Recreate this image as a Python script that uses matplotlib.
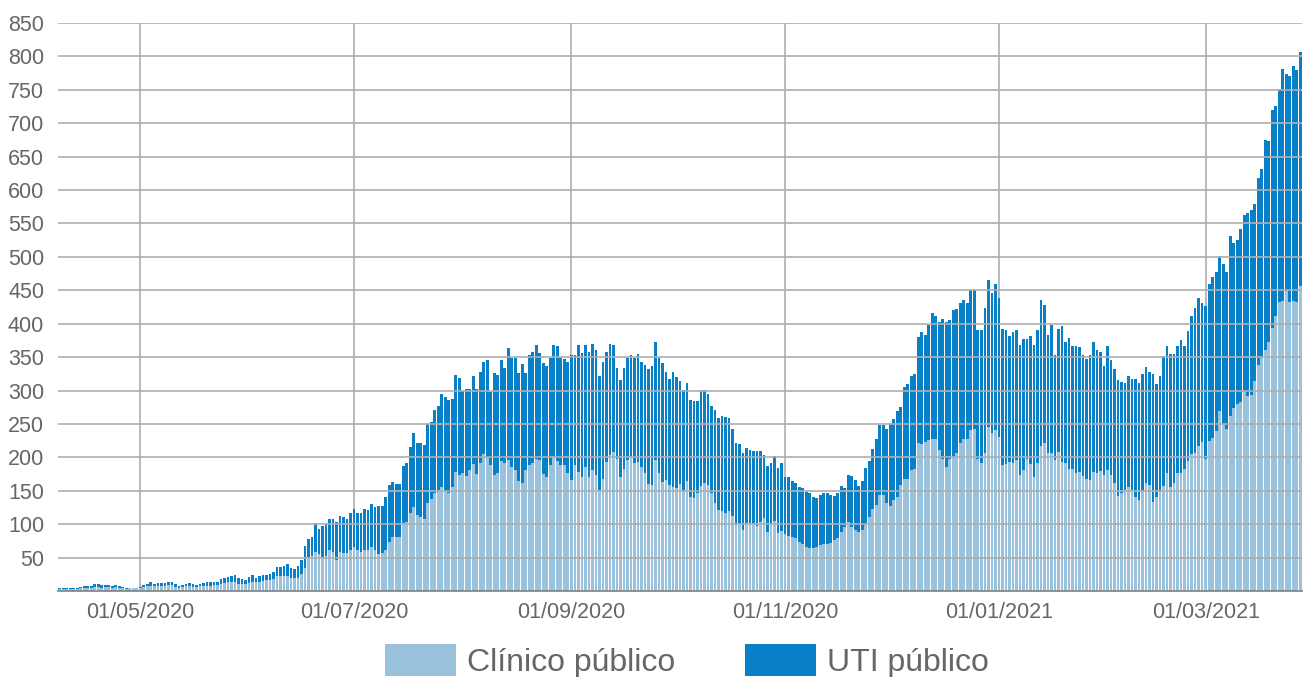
import matplotlib
matplotlib.use("Agg")
import matplotlib.pyplot as plt
import matplotlib.dates as mdates
from matplotlib.patches import Patch
import pandas as pd
import numpy as np

plt.rcParams['font.family'] = ['Liberation Sans', 'DejaVu Sans']

dates = pd.date_range("2020-04-08", "2021-03-28", freq="D")

clinico = [
    3, 3, 3, 3, 3, 3, 4, 4, 5, 5,
    6, 6, 5, 6, 6, 4, 6, 5, 4, 3,
    4, 4, 4, 4, 6, 7, 8, 7, 8, 8,
    8, 9, 9, 6, 5, 6, 7, 8, 6, 6,
    7, 8, 8, 8, 9, 9, 10, 12, 13, 14,
    13, 11, 11, 10, 12, 14, 13, 14, 15, 16,
    17, 18, 22, 23, 22, 23, 20, 19, 20, 25,
    35, 51, 52, 58, 55, 51, 52, 61, 58, 47,
    58, 57, 57, 61, 66, 61, 58, 61, 61, 66,
    62, 55, 57, 61, 73, 81, 81, 81, 102, 103,
    116, 126, 113, 111, 107, 132, 138, 146, 151, 156,
    150, 146, 156, 178, 173, 176, 172, 181, 190, 175,
    191, 205, 201, 188, 173, 176, 195, 191, 196, 185,
    181, 165, 162, 181, 188, 192, 198, 196, 175, 171,
    188, 202, 195, 188, 188, 176, 166, 188, 178, 171,
    186, 171, 181, 173, 151, 168, 193, 203, 208, 198,
    171, 182, 196, 201, 191, 193, 186, 176, 160, 158,
    196, 176, 163, 166, 158, 156, 154, 160, 150, 164,
    140, 139, 146, 157, 162, 159, 146, 132, 121, 120,
    116, 119, 112, 99, 100, 91, 102, 101, 100, 97,
    104, 109, 89, 101, 105, 87, 90, 85, 82, 81,
    80, 74, 71, 66, 65, 64, 66, 69, 71, 70,
    72, 77, 80, 89, 96, 104, 96, 92, 89, 92,
    101, 111, 122, 128, 143, 143, 131, 127, 136, 141,
    158, 168, 167, 181, 183, 221, 220, 223, 226, 228,
    227, 211, 198, 186, 198, 200, 206, 222, 227, 228,
    241, 242, 198, 191, 206, 245, 236, 241, 231, 188,
    190, 193, 191, 196, 173, 181, 197, 190, 171, 191,
    217, 221, 207, 207, 196, 208, 193, 191, 182, 183,
    177, 178, 172, 168, 166, 178, 176, 180, 173, 181,
    173, 162, 142, 146, 151, 155, 151, 140, 136, 150,
    162, 158, 133, 141, 148, 157, 177, 156, 161, 177,
    176, 183, 195, 205, 207, 217, 223, 198, 224, 229,
    239, 269, 250, 242, 262, 274, 280, 283, 300, 292,
    294, 314, 338, 350, 361, 372, 393, 411, 433, 434,
    449, 433, 434, 433, 456,
]

uti = [
    2, 2, 1, 2, 2, 2, 2, 3, 3, 3,
    4, 5, 4, 3, 3, 3, 3, 3, 2, 1,
    1, 1, 1, 2, 3, 4, 5, 4, 4, 4,
    4, 4, 5, 4, 3, 3, 3, 4, 4, 3,
    4, 4, 5, 5, 5, 5, 8, 8, 8, 9,
    11, 8, 7, 6, 9, 10, 7, 9, 9, 8,
    9, 10, 14, 13, 15, 17, 15, 14, 18, 22,
    33, 27, 29, 44, 38, 47, 48, 47, 50, 56,
    54, 53, 51, 55, 56, 56, 58, 61, 60, 64,
    64, 72, 70, 80, 85, 82, 79, 79, 85, 88,
    100, 110, 108, 110, 111, 118, 115, 125, 126, 139,
    141, 140, 132, 145, 146, 124, 130, 122, 132, 128,
    137, 137, 145, 110, 153, 147, 151, 142, 167, 163,
    167, 161, 178, 145, 165, 165, 170, 160, 166, 165,
    160, 166, 172, 160, 159, 166, 187, 165, 190, 185,
    182, 186, 189, 188, 170, 174, 164, 167, 160, 135,
    145, 151, 152, 152, 157, 162, 157, 162, 172, 178,
    176, 172, 178, 161, 160, 171, 166, 154, 151, 148,
    146, 145, 139, 144, 139, 136, 131, 139, 138, 142,
    145, 140, 130, 122, 120, 116, 112, 110, 109, 112,
    105, 95, 98, 91, 97, 97, 101, 85, 89, 84,
    82, 82, 83, 82, 82, 77, 73, 75, 76, 77,
    72, 65, 66, 68, 58, 70, 76, 74, 68, 72,
    83, 84, 91, 99, 105, 105, 111, 123, 121, 129,
    118, 137, 143, 141, 142, 159, 168, 160, 172, 188,
    184, 192, 209, 217, 207, 220, 216, 209, 209, 203,
    209, 209, 193, 199, 217, 221, 210, 219, 207, 204,
    201, 188, 196, 194, 195, 196, 180, 191, 197, 199,
    218, 207, 176, 191, 157, 184, 203, 182, 196, 184,
    189, 187, 181, 179, 187, 194, 184, 178, 164, 186,
    172, 170, 174, 167, 161, 167, 166, 177, 176, 175,
    173, 170, 192, 169, 173, 195, 190, 199, 194, 190,
    199, 184, 194, 207, 216, 222, 208, 228, 236, 241,
    238, 233, 239, 235, 269, 247, 246, 259, 263, 273,
    276, 265, 280, 281, 314, 301, 327, 315, 318, 347,
    324, 337, 351, 347, 350,
]

tick_dates = ["2020-05-01", "2020-07-01", "2020-09-01", "2020-11-01",
              "2021-01-01", "2021-03-01"]
y_ticks = list(range(50, 851, 50))
labels = ["Clínico público", "UTI público"]
colors = ["#9AC2DC", "#0880C8"]

assert len(dates) == len(clinico) == len(uti)

fig = plt.figure(figsize=(13.05, 6.77), dpi=100)
ax = fig.add_axes([58 / 1305, (677 - 591) / 677, 1244 / 1305, (591 - 23) / 677])

x = mdates.date2num(dates.to_pydatetime())
clin = np.array(clinico)
ut = np.array(uti)
ax.bar(x, clin, width=0.78, color=colors[0], linewidth=0, zorder=2)
ax.bar(x, ut, bottom=clin, width=0.78, color=colors[1], linewidth=0, zorder=2)

ax.set_xlim(x[0] - 0.5, x[-1] + 0.5)
ax.set_ylim(0, 850)

grid_c = "#AEAEAE"
ax.set_yticks(y_ticks)
for yv in y_ticks:
    ax.axhline(yv, color=grid_c, lw=1.2, zorder=3)
tx = mdates.date2num(pd.to_datetime(tick_dates).to_pydatetime())
for t in tx:
    ax.axvline(t, color=grid_c, lw=1.2, zorder=1)
ax.set_xticks(tx)
ax.xaxis.set_major_formatter(mdates.DateFormatter("%d/%m/%Y"))

ax.tick_params(axis="both", length=0, labelsize=15.5, colors="#666666")
ax.tick_params(axis="x", pad=8)
ax.tick_params(axis="y", pad=10)

for s in ["top", "right", "left"]:
    ax.spines[s].set_visible(False)
ax.spines["bottom"].set_color("#808080")
ax.spines["bottom"].set_linewidth(1.2)
ax.spines["bottom"].set_zorder(4)

handles = [Patch(facecolor=c, edgecolor="none") for c in colors]
leg = fig.legend(handles, labels, loc="center", bbox_to_anchor=(687 / 1305, 1 - 661 / 677),
                 ncol=2, frameon=False, fontsize=23, handlelength=2.2, handleheight=1.15,
                 handletextpad=0.35, columnspacing=2.2, borderpad=0)
for t in leg.get_texts():
    t.set_color("#666666")

fig.savefig("out.png", dpi=100)
